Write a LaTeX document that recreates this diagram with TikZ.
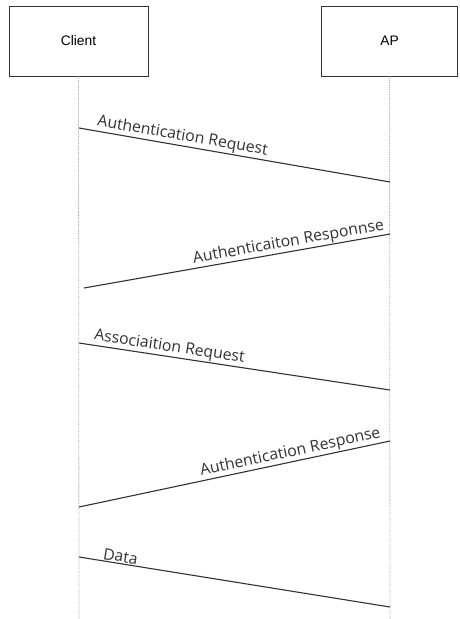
\documentclass[tikz,border=0pt]{standalone}
\usepackage{fontspec}
\setmainfont{Liberation Sans}
\newfontfamily\msgfont{Open Sans}
\definecolor{LineGray}{RGB}{50,50,50}
\definecolor{LifeGray}{RGB}{160,160,160}

\begin{document}
\begin{tikzpicture}[x=1pt,y=-1pt,
    actor/.style={draw=LineGray,line width=0.9pt,minimum height=70pt,font=\fontsize{13.8}{16}\selectfont},
    lifeline/.style={LifeGray,densely dotted,line width=0.8pt},
    msg/.style={LineGray,line width=1.1pt},
    msglabel/.style={font=\msgfont\fontsize{15.8}{18}\selectfont,text=LineGray,sloped,inner sep=1pt}]
  \useasboundingbox (0,0) rectangle (459,619);
  \node[actor,minimum width=139pt] (client) at (78.5,41) {Client};
  \node[actor,minimum width=136pt] (ap) at (389.5,41) {AP};
  \coordinate (cend) at (79,619);
  \coordinate (aend) at (390,619);
  \draw[lifeline] (client.south) -- (cend);
  \draw[lifeline] (ap.south) -- (aend);
  % end points of the messages on both lifelines
  \foreach \name/\x/\y in {c1/79/128, c2/84/288, c3/79/343, c4/79/507, c5/79/557,
                           a1/390/182, a2/390/234, a3/390/390, a4/390/441, a5/390/607}
    \coordinate (\name) at (\x,\y);
  \draw[msg] (c1) -- node[msglabel,pos=0.05,anchor=south west] {Authentication Request} (a1);
  \draw[msg] (a2) -- node[msglabel,pos=0.01,anchor=south east] {Authenticaiton Responnse} (c2);
  \draw[msg] (c3) -- node[msglabel,pos=0.04,anchor=south west] {Associaition Request} (a3);
  \draw[msg] (a4) -- node[msglabel,pos=0.02,anchor=south east] {Authentication Response} (c4);
  \draw[msg] (c5) -- node[msglabel,pos=0.07,anchor=south west] {Data} (a5);
\end{tikzpicture}
\end{document}
